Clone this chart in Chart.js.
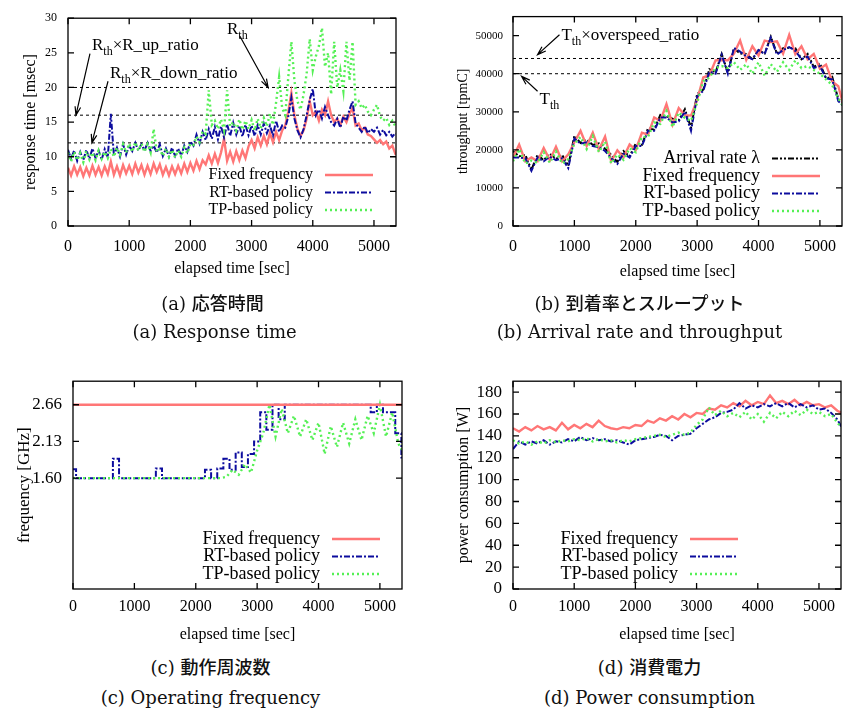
<!DOCTYPE html>
<html>
<head>
<meta charset="utf-8">
<script src="https://cdn.jsdelivr.net/npm/chart.js@4.4.1/dist/chart.umd.min.js"></script>
<style>
  body { margin: 0; background: #fff; width: 850px; height: 709px; position: relative; overflow: hidden; }
  canvas { position: absolute; }
  .cap { position: absolute; width: 425px; text-align: center; line-height: 22px; color: #111;
         font-family: "DejaVu Serif", serif; font-size: 18px; }
  .cap.jp { font-family: "DejaVu Serif", "Noto Sans CJK JP", sans-serif; font-size: 18px; }
  .cap.jp span { font-family: "Noto Sans CJK JP", sans-serif; font-weight: 500; }
</style>
</head>
<body>
<canvas id="chartA" width="425" height="290" style="left:0;top:0"></canvas>
<canvas id="chartB" width="425" height="290" style="left:425px;top:0"></canvas>
<canvas id="chartC" width="425" height="290" style="left:0;top:360px"></canvas>
<canvas id="chartD" width="425" height="290" style="left:425px;top:360px"></canvas>

<div class="cap jp" style="left:0;top:291px">(a) <span>応答時間</span></div>
<div class="cap" style="left:2px;top:321px">(a) Response time</div>
<div class="cap jp" style="left:427px;top:291px">(b) <span>到着率とスループット</span></div>
<div class="cap" style="left:427px;top:321px">(b) Arrival rate and throughput</div>
<div class="cap jp" style="left:-2px;top:655px">(c) <span>動作周波数</span></div>
<div class="cap" style="left:-2px;top:687px">(c) Operating frequency</div>
<div class="cap jp" style="left:437px;top:655px">(d) <span>消費電力</span></div>
<div class="cap" style="left:437px;top:687px">(d) Power consumption</div>

<script>
// ---- data ----
const xTicks = [0, 1000, 2000, 3000, 4000, 5000];

// (a) response time [msec], sampled every 50 s
const timesA = [0,50,100,150,200,250,300,350,400,450,500,550,600,650,700,750,800,850,900,950,
  1000,1050,1100,1150,1200,1250,1300,1350,1400,1450,1500,1550,1600,1650,1700,1750,1800,1850,1900,1950,
  2000,2050,2100,2150,2200,2250,2300,2350,2400,2450,2500,2550,2600,2650,2700,2750,2800,2850,2900,2950,
  3000,3050,3100,3150,3200,3250,3300,3350,3400,3450,3500,3550,3600,3650,3700,3750,3800,3850,3900,3950,
  4000,4050,4100,4150,4200,4250,4300,4350,4400,4450,4500,4550,4600,4650,4700,4750,4800,4850,4900,4950,
  5000,5050,5100,5150,5200,5250,5300,5350,5400];
const fixedRT = [8.4,7.3,8.6,7.4,8.5,7.2,8.4,7.3,8.7,7.4,
  8.5,7.3,8.6,7.5,9.3,7.4,8.6,7.3,8.8,7.6,
  8.7,7.5,9.0,7.7,8.8,7.4,8.7,7.5,9.0,7.8,
  8.9,7.4,8.5,7.3,8.6,7.5,8.7,7.6,9.0,7.8,
  9.1,8.0,9.4,8.2,9.5,8.9,10.2,9.0,10.4,9.1,
  10.6,12.6,9.4,10.7,9.3,10.8,9.5,10.9,9.8,11.5,
  12.4,11.2,12.8,11.6,13.0,11.8,13.4,12.1,13.6,12.4,
  13.8,14.5,16.5,19.2,16.0,14.0,13.0,13.8,15.5,18.0,
  16.0,16.5,15.2,16.8,16.0,18.0,16.0,15.0,15.5,14.6,
  15.8,15.0,16.2,17.0,14.5,14.8,13.8,14.2,13.2,13.0,
  12.5,12.0,12.4,11.8,12.2,11.2,11.6,10.4,10.5];
const rtRT = [11.0,9.7,10.9,9.4,10.7,9.5,11.0,9.7,11.2,9.8,
  10.9,9.6,11.1,9.9,16.2,10.2,11.3,10.0,11.8,10.3,
  11.6,10.8,12.0,10.9,11.8,10.9,12.0,10.8,11.6,10.6,
  11.8,10.1,11.2,10.0,11.3,10.1,11.2,10.2,11.6,10.7,
  12.2,11.6,13.2,11.9,13.6,12.4,14.0,12.6,14.3,12.5,
  14.4,12.8,14.7,13.0,14.9,13.2,14.5,12.9,14.6,13.1,
  14.5,13.0,14.6,13.2,14.8,13.4,14.5,13.1,15.2,13.6,
  14.5,14.2,15.8,18.5,15.5,13.8,12.8,14.0,16.0,18.2,
  19.8,16.0,16.8,15.5,17.2,16.0,15.0,14.5,15.5,14.2,
  15.8,15.2,16.8,18.0,14.8,14.2,13.6,14.4,13.4,14.0,
  13.6,14.2,13.2,13.9,13.1,13.6,12.9,13.4,13.2];
const tpRT = [10.6,9.3,10.7,9.5,10.5,9.2,10.8,9.6,10.6,9.5,
  10.9,9.7,10.7,9.8,11.1,10.0,11.3,10.3,11.8,10.6,
  11.9,10.7,12.1,10.9,11.9,10.7,11.8,10.6,14.0,10.7,
  11.1,10.1,11.2,10.0,11.0,9.9,10.9,10.0,11.3,10.5,
  11.9,11.7,12.9,12.1,13.7,13.3,19.6,14.6,15.2,14.0,
  15.4,13.8,19.6,14.4,15.0,13.8,15.4,13.9,15.2,14.0,
  15.3,13.8,15.5,14.1,15.6,14.4,16.2,14.6,17.8,21.5,
  17.0,16.0,21.5,26.6,21.0,18.0,16.8,19.0,22.0,27.0,
  22.5,24.5,26.0,28.6,23.0,25.0,19.0,26.6,20.0,22.5,
  19.5,26.6,21.0,26.6,17.5,18.0,17.0,17.5,16.5,16.0,
  16.8,17.5,15.8,15.2,15.6,14.6,15.2,14.4,14.8];
const rtLevels = [12, 16, 20];
const rtTicks = [0, 5, 10, 15, 20, 25, 30];

// (b)-(d) sampled every 100 s
const times = [0,100,200,300,400,500,600,700,800,900,1000,1100,1200,1300,1400,1500,1600,1700,1800,1900,
  2000,2100,2200,2300,2400,2500,2600,2700,2800,2900,3000,3100,3200,3300,3400,3500,3600,3700,3800,3900,
  4000,4100,4200,4300,4400,4500,4600,4700,4800,4900,5000,5100,5200,5300,5400];

// (b) arrival rate and throughput [tpmC]
const arrival = [19700,18300,18700,14800,18700,17300,19000,17600,18700,15800,
  23700,21800,22700,21300,21700,20300,18700,16800,19700,18300,
  21700,21300,25700,25300,29200,28800,28200,27800,30700,25800,
  34700,35800,41200,40300,45200,40300,46700,45300,45200,43800,
  46200,45300,49700,45300,46700,46800,46700,43800,45200,41800,
  42700,38800,39200,33300,32200];
const fixedTP = [18000,21400,17000,18000,17000,20500,17300,20800,17000,18800,
  22000,25000,21000,24500,20000,23500,17000,19900,18000,21400,
  20000,24500,24000,28500,27600,32000,26600,31000,29100,29000,
  33100,39000,39600,43500,43600,43500,45300,48700,43600,47200,
  44800,48700,48300,48500,45300,50200,45100,47200,43800,45200,
  41300,42400,38000,36700,30800];
const rtTP = [18000,18000,17800,14500,18000,17000,18200,17300,17800,15200,
  23000,21600,22000,21000,20700,19700,17800,16300,19000,18000,
  21000,21000,25000,25000,28500,28500,27200,27500,30000,25000,
  34000,35500,40500,40000,45000,40000,46800,45800,44600,43800,
  46200,45200,49500,45000,46200,47000,46000,43800,44500,41500,
  42000,38800,38500,32800,31200];
const tpTP = [17000,20200,16400,17200,16600,19400,16600,19600,16400,17600,
  21600,23400,20200,23600,19400,22200,16400,18800,17400,20400,
  19400,23400,23400,27200,26800,30200,26000,29800,28400,27600,
  32400,38000,39000,41500,42000,41500,43000,41000,42500,40000,
  43000,39500,42500,40500,43000,41000,43500,41500,42000,41000,
  40000,38500,37000,33500,31000];
const tpLevels = [40000, 44000];
const tpTicks = [0, 10000, 20000, 30000, 40000, 50000];

// (c) operating frequency [GHz]
const fixedFreqTimes = [0, 5400];
const fixedFreq = [2.66, 2.66];
const rtFreq = [1.73,1.60,1.60,1.60,1.60,1.60,1.60,1.88,1.60,1.60,
  1.60,1.60,1.60,1.60,1.74,1.60,1.60,1.60,1.60,1.60,
  1.60,1.60,1.72,1.60,1.74,1.88,1.72,1.97,1.76,1.95,
  2.13,2.55,2.30,2.66,2.45,2.66,2.66,2.66,2.66,2.66,
  2.66,2.66,2.66,2.66,2.66,2.66,2.66,2.66,2.66,2.55,
  2.66,2.55,2.55,2.25,1.90];
const tpFreq = [1.60,1.60,1.60,1.60,1.60,1.60,1.60,1.60,1.60,1.60,
  1.60,1.60,1.60,1.60,1.60,1.60,1.60,1.60,1.60,1.60,
  1.60,1.60,1.60,1.60,1.60,1.62,1.72,1.65,1.80,1.68,
  2.00,2.25,2.66,2.20,2.60,2.25,2.50,2.20,2.45,2.15,
  2.40,1.95,2.35,2.05,2.40,2.10,2.45,2.15,2.50,2.25,
  2.66,2.20,2.55,2.10,1.95];
const freqTicks = [1.60, 2.13, 2.66];

// (d) power consumption [W]
const fixedPow = [147,144,148,145,149,146,148,145,152,146,
  150,147,151,148,154,149,147,146,148,147,
  150,149,154,152,156,154,158,155,160,157,
  161,160,165,164,168,166,170,167,172,168,
  171,169,177,170,172,169,173,168,171,168,
  169,166,168,163,160];
const rtPow = [128,135,132,135,133,136,132,135,134,137,
  135,139,136,138,136,137,135,136,134,132,
  136,137,138,139,141,140,136,140,141,142,
  147,151,155,157,161,162,164,170,165,168,
  166,169,167,170,167,170,166,169,166,168,
  164,165,161,155,145];
const tpPow = [136,133,135,132,135,133,136,134,136,135,
  137,136,138,135,137,135,136,134,136,135,
  137,138,139,140,141,139,141,143,141,143,
  150,155,166,159,163,158,161,157,162,155,
  160,153,161,156,162,158,163,159,164,160,
  162,158,160,152,146];
const powTicks = [0, 20, 40, 60, 80, 100, 120, 140, 160, 180];

// ---- styles ----
const T_MAX = 5360;
const RED = '#ff7676', BLUE = '#0c0c9e', GREEN = '#55f055';
const fixedStyle = { borderColor: RED, borderWidth: 2.4, borderDash: [] };
const rtStyle = { borderColor: BLUE, borderWidth: 2, borderDash: [6, 2, 2, 2] };
const tpStyle = { borderColor: GREEN, borderWidth: 2.4, borderDash: [2, 3] };
const arrStyle = { borderColor: '#000', borderWidth: 2, borderDash: [6, 2, 2, 2, 2, 2] };
const refStyle = { borderColor: '#000', borderWidth: 1, borderDash: [3, 3] };

Chart.defaults.font.family = '"Liberation Serif", "Times New Roman", serif';
Chart.defaults.color = '#000';

function pts(ts, vs) { return vs.map((v, i) => ({ x: ts[i], y: v })); }
function line(label, ts, vs, style, order, extra) {
  return Object.assign({ label, data: pts(ts, vs), order, pointRadius: 0, tension: 0,
    fill: false, borderCapStyle: 'butt', borderJoinStyle: 'miter' }, style, extra || {});
}
function refLine(level) {
  return line(null, [0, T_MAX], [level, level], refStyle, 20);
}
function fixTicks(list) {
  return s => { s.ticks = list.map(v => ({ value: v })); };
}

// frame with inward tick marks on all four sides (gnuplot look)
const framePlugin = {
  id: 'frame',
  afterDraw(chart) {
    const { ctx, chartArea: a, scales } = chart;
    ctx.save();
    ctx.strokeStyle = '#000';
    ctx.lineWidth = 1.3;
    ctx.setLineDash([]);
    ctx.strokeRect(a.left, a.top, a.right - a.left, a.bottom - a.top);
    const L = 6;
    ctx.beginPath();
    scales.x.ticks.forEach(t => {
      const px = scales.x.getPixelForValue(t.value);
      ctx.moveTo(px, a.bottom); ctx.lineTo(px, a.bottom - L);
      ctx.moveTo(px, a.top); ctx.lineTo(px, a.top + L);
    });
    scales.y.ticks.forEach(t => {
      const py = scales.y.getPixelForValue(t.value);
      ctx.moveTo(a.left, py); ctx.lineTo(a.left + L, py);
      ctx.moveTo(a.right, py); ctx.lineTo(a.right - L, py);
    });
    ctx.stroke();
    ctx.restore();
  }
};

// key in the lower right corner: text then line sample
const keyPlugin = {
  id: 'gpKey',
  afterDraw(chart, args, o) {
    const { ctx, chartArea: a } = chart;
    const items = chart.data.datasets.filter(d => d.label);
    const x2 = a.right - o.right, x1 = x2 - o.len;
    ctx.save();
    ctx.font = o.size + 'px "Liberation Serif", serif';
    ctx.textAlign = 'right';
    ctx.textBaseline = 'middle';
    ctx.fillStyle = '#000';
    items.forEach((d, i) => {
      const y = a.bottom - o.bottom - (items.length - 1 - i) * o.row;
      ctx.fillText(d.label, x1 - o.gap, y);
      ctx.strokeStyle = d.borderColor;
      ctx.lineWidth = d.borderWidth;
      ctx.setLineDash(d.borderDash || []);
      ctx.beginPath(); ctx.moveTo(x1, y); ctx.lineTo(x2, y); ctx.stroke();
    });
    ctx.restore();
  }
};

// text labels with arrows, anchored in data coordinates
const notePlugin = {
  id: 'notes',
  afterDraw(chart, args, o) {
    if (!o.items) return;
    const { ctx, scales: { x, y } } = chart;
    ctx.save();
    ctx.fillStyle = '#000';
    ctx.textAlign = 'left';
    ctx.textBaseline = 'middle';
    o.items.forEach(n => {
      let px = x.getPixelForValue(n.at[0]);
      const py = y.getPixelForValue(n.at[1]);
      n.parts.forEach(p => {
        ctx.font = p.sub ? '12px "Liberation Serif", serif' : '17px "Liberation Serif", serif';
        ctx.fillText(p.t, px, py + (p.sub ? 6 : 0));
        px += ctx.measureText(p.t).width;
      });
      const x1 = x.getPixelForValue(n.from[0]), y1 = y.getPixelForValue(n.from[1]);
      const x2 = x.getPixelForValue(n.to[0]), y2 = y.getPixelForValue(n.to[1]);
      const ang = Math.atan2(y2 - y1, x2 - x1), h = 9, w = 0.32;
      ctx.strokeStyle = '#000';
      ctx.lineWidth = 1.2;
      ctx.setLineDash([]);
      ctx.beginPath();
      ctx.moveTo(x1, y1); ctx.lineTo(x2, y2);
      ctx.moveTo(x2 - h * Math.cos(ang - w), y2 - h * Math.sin(ang - w));
      ctx.lineTo(x2, y2);
      ctx.lineTo(x2 - h * Math.cos(ang + w), y2 - h * Math.sin(ang + w));
      ctx.stroke();
    });
    ctx.restore();
  }
};

function makeChart(id, c) {
  new Chart(document.getElementById(id), {
    type: 'line',
    data: { datasets: c.datasets },
    plugins: [framePlugin, keyPlugin, notePlugin],
    options: {
      responsive: false,
      animation: false,
      devicePixelRatio: 1,
      events: [],
      parsing: false,
      layout: { padding: { top: c.padTop, right: c.padRight, left: 0, bottom: 0 } },
      plugins: {
        legend: { display: false },
        tooltip: { enabled: false },
        gpKey: c.key,
        notes: { items: c.notes }
      },
      scales: {
        x: {
          type: 'linear', min: 0, max: T_MAX,
          grid: { display: false, drawTicks: false },
          border: { display: false },
          ticks: { autoSkip: false, maxRotation: 0, padding: c.xTickPad,
                   font: { size: 16 }, callback: v => String(v) },
          title: { display: true, text: 'elapsed time [sec]', font: { size: 16 },
                   padding: { top: c.xTitlePad, bottom: c.xTitlePad } },
          afterBuildTicks: fixTicks(xTicks),
          afterFit: s => { s.height = c.xH; }
        },
        y: {
          type: 'linear', min: c.yMin, max: c.yMax,
          grid: { display: false, drawTicks: false },
          border: { display: false },
          ticks: { autoSkip: false, padding: c.yTickPad, font: { size: c.yTickSize },
                   callback: c.yFormat || (v => String(v)) },
          title: { display: true, text: c.yTitle, font: { size: c.yTitleSize || 16 },
                   padding: { top: c.yTitlePad, bottom: c.yTitlePad } },
          afterBuildTicks: fixTicks(c.yTickList),
          afterFit: s => { s.width = c.yW; }
        }
      }
    }
  });
}

// (a) response time
makeChart('chartA', {
  datasets: [
    line('Fixed frequency', timesA, fixedRT, fixedStyle, 3),
    line('RT-based policy', timesA, rtRT, rtStyle, 2),
    line('TP-based policy', timesA, tpRT, tpStyle, 1),
    ...rtLevels.map(refLine)
  ],
  padTop: 10, padRight: 29, xH: 64, yW: 68,
  xTickPad: 11, xTitlePad: 12, yTickPad: 11, yTickSize: 12, yTitlePad: 21,
  yMin: 0, yMax: 30, yTickList: rtTicks, yTitle: 'response time [msec]',
  key: { size: 16, right: 23, len: 48, gap: 12, bottom: 16, row: 17.5 },
  notes: [
    { parts: [{ t: 'R' }, { t: 'th', sub: true }, { t: '×R_up_ratio' }],
      at: [392, 26.0], from: [359, 24.9], to: [130, 16] },
    { parts: [{ t: 'R' }, { t: 'th', sub: true }, { t: '×R_down_ratio' }],
      at: [686, 22.0], from: [654, 20.9], to: [390, 12] },
    { parts: [{ t: 'R' }, { t: 'th', sub: true }],
      at: [2598, 28.3], from: [2810, 27.4], to: [3270, 20] }
  ]
});

// (b) arrival rate and throughput
makeChart('chartB', {
  datasets: [
    line('Arrival rate λ', times, arrival, arrStyle, 4),
    line('Fixed frequency', times, fixedTP, fixedStyle, 3),
    line('RT-based policy', times, rtTP, rtStyle, 2),
    line('TP-based policy', times, tpTP, tpStyle, 1),
    ...tpLevels.map(refLine)
  ],
  padTop: 11, padRight: 8, xH: 64, yW: 88,
  xTickPad: 11, xTitlePad: 9, yTickPad: 10, yTickSize: 11, yTitlePad: 30, yTitleSize: 14,
  yMin: 0, yMax: 55000, yTickList: tpTicks, yTitle: 'throughput [tpmC]',
  key: { size: 18, right: 22, len: 48, gap: 12, bottom: 15, row: 17.5 },
  notes: [
    { parts: [{ t: 'T' }, { t: 'th', sub: true }, { t: '×overspeed_ratio' }],
      at: [789, 50000], from: [757, 50250], to: [400, 45000] },
    { parts: [{ t: 'T' }, { t: 'th', sub: true }],
      at: [433, 33100], from: [400, 35400], to: [140, 39300] }
  ]
});

// (c) operating frequency
makeChart('chartC', {
  datasets: [
    line('Fixed frequency', fixedFreqTimes, fixedFreq, fixedStyle, 1),
    line('RT-based policy', times, rtFreq, rtStyle, 3, { stepped: 'middle' }),
    line('TP-based policy', times, tpFreq, tpStyle, 2)
  ],
  padTop: 14, padRight: 23, xH: 61, yW: 73,
  xTickPad: 8, xTitlePad: 6, yTickPad: 11, yTickSize: 17, yTitlePad: 14, yTitleSize: 17,
  yMin: 0, yMax: 3.0, yTickList: freqTicks, yTitle: 'frequency [GHz]',
  yFormat: v => v.toFixed(2),
  key: { size: 18, right: 22, len: 48, gap: 12, bottom: 15, row: 17.5 }
});

// (d) power consumption
makeChart('chartD', {
  datasets: [
    line('Fixed frequency', times, fixedPow, fixedStyle, 3),
    line('RT-based policy', times, rtPow, rtStyle, 2),
    line('TP-based policy', times, tpPow, tpStyle, 1)
  ],
  padTop: 14, padRight: 9, xH: 61, yW: 88,
  xTickPad: 8, xTitlePad: 6, yTickPad: 11, yTickSize: 17, yTitlePad: 29,
  yMin: 0, yMax: 190, yTickList: powTicks, yTitle: 'power consumption [W]',
  key: { size: 18, right: 103, len: 48, gap: 12, bottom: 15, row: 17.5 }
});
</script>
</body>
</html>
